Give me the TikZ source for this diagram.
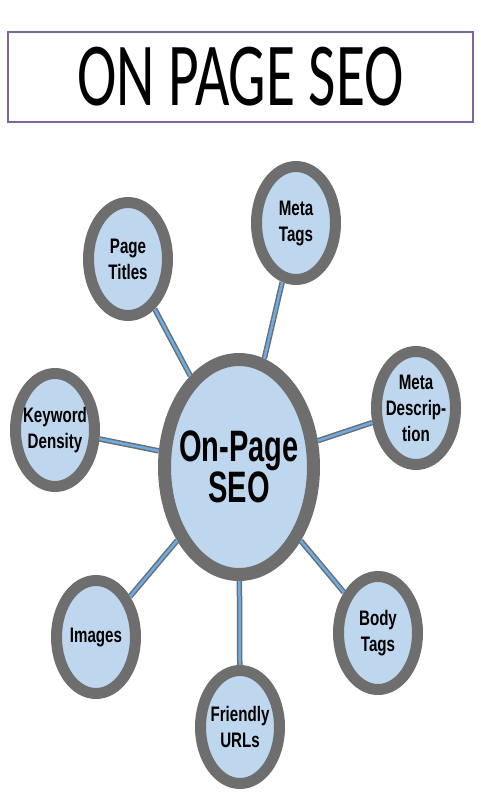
\documentclass[tikz,border=0pt]{standalone}
\usepackage{fontspec}
\usetikzlibrary{shapes.geometric}
\newfontfamily\nodefont[FakeStretch=0.72]{Liberation Sans}
\newfontfamily\hubfont[FakeStretch=0.66]{Liberation Sans}
\newfontfamily\titlefont[FakeStretch=0.66]{Carlito}
\definecolor{ringgray}{RGB}{110,110,110}
\definecolor{fillblue}{RGB}{190,215,238}
\definecolor{linkblue}{RGB}{105,172,232}
\definecolor{framepurple}{RGB}{128,100,162}
\tikzset{
  topic/.style={ellipse, draw=ringgray, fill=fillblue, line width=11pt,
    minimum width=79pt, minimum height=113pt, inner sep=-30pt, align=center,
    font={\nodefont\bfseries\fontsize{21}{26}\selectfont}},
  hub/.style={ellipse, draw=ringgray, fill=fillblue, line width=13pt,
    minimum width=149pt, minimum height=215pt, inner sep=-40pt, align=center,
    font={\hubfont\bfseries\fontsize{44}{38}\selectfont}},
  link/.style={draw=ringgray, line width=1.5pt, double=linkblue, double distance=2.5pt},
  titlebox/.style={draw=framepurple, line width=2pt, minimum width=465pt,
    minimum height=90pt, inner sep=0pt,
    font={\titlefont\fontsize{90}{90}\selectfont}}
}
\begin{document}
\begin{tikzpicture}[x=1pt,y=-1pt]
\useasboundingbox (0,0) rectangle (480,800);
\node[titlebox] (title) at (240.5,77) {ON PAGE SEO};
\node[hub] (hub) at (239,467) {On-Page\\SEO};
\node[topic] (titles) at (128,259) {Page\\Titles};
\node[topic] (metatags) at (296,223) {Meta\\Tags};
\node[topic] (metadesc) at (416,408) {Meta\\Descrip-\\tion};
\node[topic] (keyword) at (55,430) {Keyword\\Density};
\node[topic] (images) at (96,637) {Images};
\node[topic] (body) at (378,633) {Body\\Tags};
\node[topic] (urls) at (240,727) {Friendly\\URLs};
\foreach \n in {titles,metatags,metadesc,keyword,images,body,urls}{
  \draw[link] (hub) -- (\n);
}
\end{tikzpicture}
\end{document}
